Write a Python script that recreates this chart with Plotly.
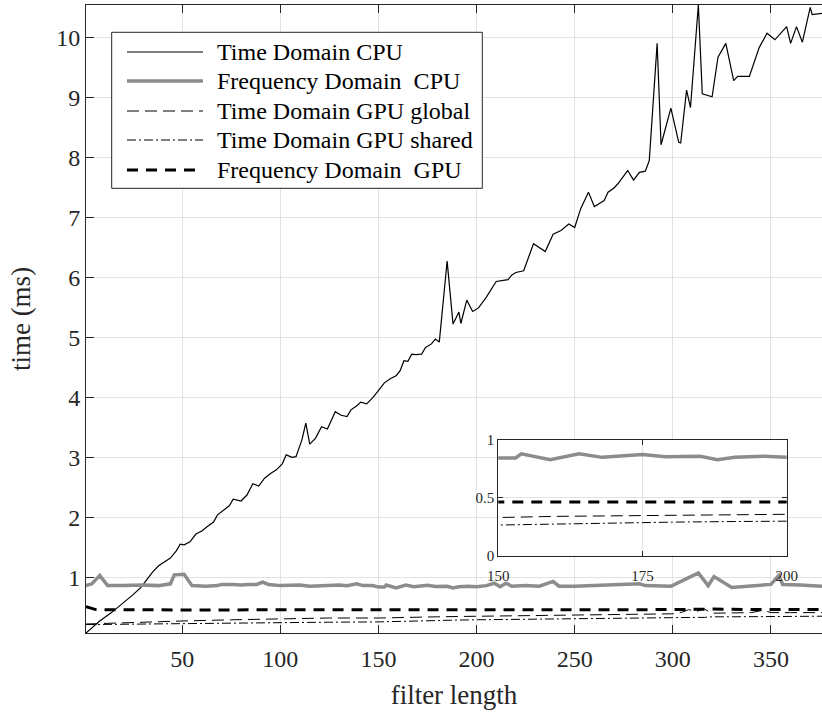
import plotly.graph_objects as go

# ---------------- data ----------------
# Time Domain CPU
cpu_L = [1, 8, 14, 20, 25, 29, 32, 35, 38, 41, 44, 47, 49, 51, 54, 57, 60, 63, 66, 68, 71, 74, 76, 80,
         83, 86, 89, 92, 95, 98, 101, 103, 106, 108, 111, 113, 115, 118, 121, 124, 128, 131, 134, 136,
         139, 141, 144, 147, 150, 153, 156, 159, 161, 163, 165, 167, 169, 172, 174, 177, 179, 181, 185,
         188, 191, 192, 195, 198, 201, 205, 210, 213, 216, 218, 220, 224, 229, 235, 239, 243, 247, 250,
         253, 257, 260, 263, 265, 267, 270, 272, 277, 280, 283, 286, 288, 292, 294, 299, 303, 304, 307,
         309, 313, 315, 320, 323, 327, 331, 333, 339, 344, 348, 352, 358, 360, 363, 366, 370, 371, 376]
cpu_t = [0.08, 0.28, 0.42, 0.58, 0.72, 0.84, 0.98, 1.10, 1.20, 1.27, 1.33, 1.45, 1.56, 1.55, 1.60, 1.73,
         1.78, 1.86, 1.93, 2.05, 2.12, 2.20, 2.31, 2.28, 2.38, 2.57, 2.53, 2.66, 2.74, 2.80, 2.90, 3.05,
         3.01, 3.02, 3.30, 3.58, 3.23, 3.33, 3.52, 3.48, 3.77, 3.71, 3.69, 3.80, 3.87, 3.93, 3.90, 4.00,
         4.12, 4.25, 4.32, 4.37, 4.45, 4.62, 4.61, 4.73, 4.72, 4.73, 4.84, 4.90, 4.98, 4.93, 6.28, 5.23,
         5.43, 5.24, 5.63, 5.44, 5.50, 5.68, 5.94, 5.96, 5.97, 6.05, 6.09, 6.12, 6.57, 6.44, 6.73, 6.79,
         6.90, 6.84, 7.15, 7.43, 7.19, 7.25, 7.29, 7.43, 7.50, 7.57, 7.79, 7.63, 7.76, 7.78, 7.96, 9.91,
         8.22, 8.83, 8.26, 8.25, 9.13, 8.84, 10.55, 9.07, 9.02, 9.68, 9.91, 9.29, 9.36, 9.36, 9.84,
         10.08, 9.97, 10.19, 9.91, 10.19, 9.93, 10.51, 10.39, 10.41]

# Frequency Domain CPU
fd_cpu_L = [1, 4, 8, 12, 20, 30, 38, 44, 46, 51, 55, 62, 68, 70, 76, 80, 84, 88, 91, 94, 100, 106, 110,
            115, 120, 125, 130, 134, 139, 142, 147, 150, 153, 154, 159, 164, 168, 175, 179, 185, 188,
            191, 196, 200, 205, 209, 212, 215, 218, 225, 232, 239, 242, 250, 258, 265, 275, 281, 283,
            286, 292, 299, 306, 313, 318, 321, 330, 340, 350, 354, 356, 365, 376]
fd_cpu_t = [0.87, 0.90, 1.04, 0.87, 0.87, 0.88, 0.87, 0.90, 1.05, 1.06, 0.87, 0.86, 0.87, 0.89, 0.89,
            0.88, 0.89, 0.89, 0.93, 0.89, 0.87, 0.87, 0.88, 0.86, 0.87, 0.87, 0.88, 0.87, 0.90, 0.87,
            0.87, 0.845, 0.845, 0.88, 0.83, 0.88, 0.85, 0.875, 0.856, 0.86, 0.83, 0.85, 0.86, 0.85,
            0.87, 0.91, 0.85, 0.91, 0.86, 0.87, 0.86, 0.94, 0.86, 0.86, 0.87, 0.88, 0.88, 0.89, 0.90,
            0.87, 0.86, 0.86, 0.97, 1.08, 0.87, 1.02, 0.84, 0.86, 0.89, 1.04, 0.89, 0.88, 0.86]

# Time Domain GPU (global / shared)
gpu_L = [1, 25, 50, 75, 100, 125, 150, 160, 170, 180, 190, 200, 225, 250, 275, 300, 305, 308, 312,
         316, 320, 330, 340, 346, 350, 360, 376]
gpu_global_t = [0.23, 0.26, 0.28, 0.30, 0.32, 0.33, 0.33, 0.34, 0.345, 0.35, 0.355, 0.36, 0.37, 0.38,
                0.39, 0.40, 0.43, 0.47, 0.44, 0.48, 0.41, 0.41, 0.42, 0.46, 0.42, 0.42, 0.42]
gpu_shared_t = [0.22, 0.23, 0.24, 0.245, 0.25, 0.26, 0.265, 0.275, 0.285, 0.29, 0.295, 0.30, 0.31,
                0.32, 0.33, 0.335, 0.34, 0.35, 0.34, 0.34, 0.35, 0.35, 0.35, 0.36, 0.36, 0.36, 0.36]

# Frequency Domain GPU
fd_gpu_L = [1, 6, 50, 100, 150, 200, 250, 300, 320, 340, 376]
fd_gpu_t = [0.52, 0.47, 0.465, 0.465, 0.46, 0.46, 0.465, 0.47, 0.48, 0.47, 0.47]

series_names = ["Time Domain CPU", "Frequency Domain\u00a0 CPU", "Time Domain GPU global",
                "Time Domain GPU shared", "Frequency Domain\u00a0 GPU"]

x_ticks = [50, 100, 150, 200, 250, 300, 350]
y_ticks = [1, 2, 3, 4, 5, 6, 7, 8, 9, 10]
inset_x_ticks = [150, 175, 200]
inset_y_ticks = [0, 0.5, 1]
inset_y_text = ["0", "0.5", "1"]

# ---------------- figure ----------------
W, H = 822, 713
ML, MR, MT, MB = 86, 0, 5, 80
PW, PH = W - ML - MR, H - MT - MB

def px(x):  # pixel -> paper x
    return (x - ML) / PW

def py(y):  # pixel -> paper y
    return (H - MB - y) / PH

FONT = "Liberation Serif, Times New Roman, serif"
AX = "#262626"
GRID = "#e2e2e2"

styles = [
    dict(color="black", width=1.2),
    dict(color="#8c8c8c", width=3.5),
    dict(color="black", width=1, dash="12px,6px"),
    dict(color="black", width=1, dash="9px,3px,2px,3px"),
    dict(color="black", width=3, dash="11px,8px"),
]
xs = [cpu_L, fd_cpu_L, gpu_L, gpu_L, fd_gpu_L]
ys = [cpu_t, fd_cpu_t, gpu_global_t, gpu_shared_t, fd_gpu_t]

fig = go.Figure()
for name, x, y, st in zip(series_names, xs, ys, styles):
    fig.add_trace(go.Scatter(x=x, y=y, mode="lines", name=name, line=st,
                             xaxis="x", yaxis="y", showlegend=False, hoverinfo="skip"))
for name, x, y, st in zip(series_names, xs, ys, styles):
    fig.add_trace(go.Scatter(x=x, y=y, mode="lines", name=name, line=st,
                             xaxis="x2", yaxis="y2", showlegend=False, hoverinfo="skip"))

# legend box drawn like the original (MATLAB style)
shapes = [dict(type="rect", xref="paper", yref="paper", layer="above",
               x0=px(111.7), x1=px(482.3), y0=py(188.3), y1=py(32.3),
               fillcolor="white", line=dict(color=AX, width=1))]
annotations = []
row_y = [52, 81, 111, 140, 170]
for name, st, ry in zip(series_names, styles, row_y):
    shapes.append(dict(type="line", xref="paper", yref="paper", layer="above",
                       x0=px(127), x1=px(203), y0=py(ry), y1=py(ry),
                       line=dict(color=st["color"], width=st["width"], dash=st.get("dash", "solid"))))
    annotations.append(dict(xref="paper", yref="paper", x=px(215), y=py(ry), xanchor="left",
                            yanchor="middle", text=name, showarrow=False,
                            font=dict(family=FONT, size=24, color="black")))

common = dict(automargin=False, showline=True, linecolor=AX, linewidth=1, tickcolor=AX,
              ticks="inside", showgrid=True, gridcolor=GRID, zeroline=False)

fig.update_layout(
    width=W, height=H,
    margin=dict(l=ML, r=MR, t=MT, b=MB, autoexpand=False),
    paper_bgcolor="white", plot_bgcolor="white",
    font=dict(family=FONT, color=AX),
    showlegend=False,
    shapes=shapes, annotations=annotations,
    xaxis=dict(common, range=[1, 376], tickvals=x_ticks, ticklen=8, mirror="ticks",
               ticklabelstandoff=4, tickfont=dict(family=FONT, size=24, color=AX),
               title=dict(text="filter length", font=dict(family=FONT, size=27, color=AX), standoff=14),
               domain=[0, 1]),
    yaxis=dict(common, range=[0.08, 10.55], tickvals=y_ticks, ticklen=8, mirror=False,
               tickfont=dict(family=FONT, size=24, color=AX),
               title=dict(text="time (ms)", font=dict(family=FONT, size=27, color=AX), standoff=17),
               domain=[0, 1]),
    xaxis2=dict(common, domain=[px(498.3), px(786.7)], anchor="y2", range=[150, 200],
                tickvals=inset_x_ticks, ticklen=5, mirror="ticks", ticklabelstandoff=6,
                tickfont=dict(family=FONT, size=15, color=AX)),
    yaxis2=dict(common, domain=[py(555.7), py(440)], anchor="x2", range=[0, 1], tickvals=inset_y_ticks,
                ticktext=inset_y_text, ticklen=5, mirror="ticks",
                tickfont=dict(family=FONT, size=15, color=AX)),
)

fig.write_html("out.html", config={"responsive": False})
